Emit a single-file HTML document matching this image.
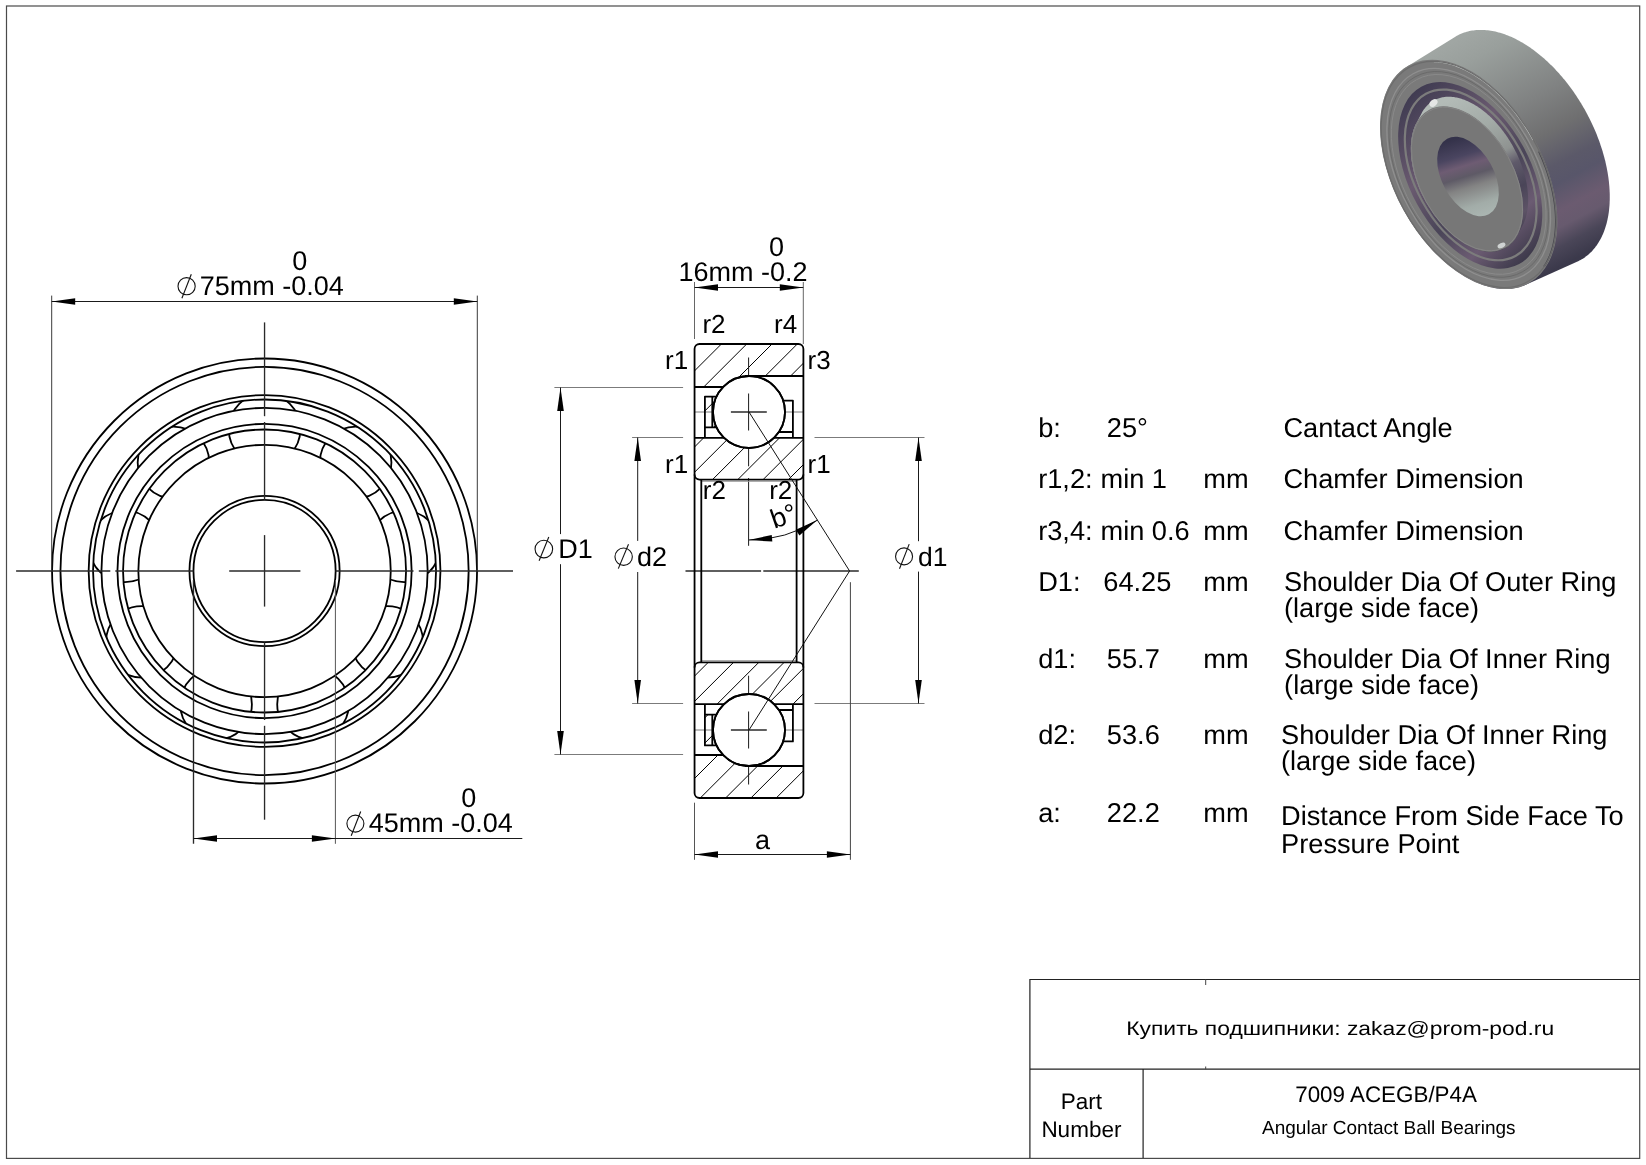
<!DOCTYPE html>
<html><head><meta charset="utf-8"><style>
html,body{margin:0;padding:0;background:#fff;}
svg{display:block;will-change:transform;}
text{font-family:"Liberation Sans",sans-serif;fill:#000;text-rendering:geometricPrecision;}
</style></head><body>
<svg width="1646" height="1165" viewBox="0 0 1646 1165">
<rect width="1646" height="1165" fill="#fff"/>
<rect x="6.5" y="6" width="1633.2" height="1152.4" fill="none" stroke="#4a4a4a" stroke-width="1.2"/>
<defs>
<clipPath id="bandA"><path clip-rule="evenodd" d="M 93.05 571.00 a 171.50 171.50 0 1 0 343.00 0 a 171.50 171.50 0 1 0 -343.00 0 Z M 101.45 571.00 a 163.10 163.10 0 1 0 326.20 0 a 163.10 163.10 0 1 0 -326.20 0 Z"/></clipPath>
<clipPath id="bandB"><path clip-rule="evenodd" d="M 123.05 571.00 a 141.50 141.50 0 1 0 283.00 0 a 141.50 141.50 0 1 0 -283.00 0 Z M 138.35 571.00 a 126.20 126.20 0 1 0 252.40 0 a 126.20 126.20 0 1 0 -252.40 0 Z"/></clipPath>
</defs>
<circle cx="264.55" cy="571.00" r="212.50" fill="none" stroke="#000" stroke-width="1.80"/>
<circle cx="264.55" cy="571.00" r="204.10" fill="none" stroke="#000" stroke-width="1.80"/>
<circle cx="264.55" cy="571.00" r="175.90" fill="none" stroke="#000" stroke-width="1.80"/>
<circle cx="264.55" cy="571.00" r="171.50" fill="none" stroke="#000" stroke-width="1.80"/>
<circle cx="264.55" cy="571.00" r="163.10" fill="none" stroke="#000" stroke-width="1.80"/>
<circle cx="264.55" cy="571.00" r="147.10" fill="none" stroke="#000" stroke-width="1.80"/>
<circle cx="264.55" cy="571.00" r="141.50" fill="none" stroke="#000" stroke-width="1.80"/>
<circle cx="264.55" cy="571.00" r="126.20" fill="none" stroke="#000" stroke-width="1.80"/>
<circle cx="264.55" cy="571.00" r="75.10" fill="none" stroke="#000" stroke-width="1.80"/>
<circle cx="264.55" cy="571.00" r="71.10" fill="none" stroke="#000" stroke-width="1.80"/>
<g clip-path="url(#bandA)" fill="none" stroke="#000" stroke-width="1.80"><circle cx="264.55" cy="429.30" r="35.80"/><circle cx="355.63" cy="462.45" r="35.80"/><circle cx="404.10" cy="546.39" r="35.80"/><circle cx="387.27" cy="641.85" r="35.80"/><circle cx="313.01" cy="704.15" r="35.80"/><circle cx="216.09" cy="704.15" r="35.80"/><circle cx="141.83" cy="641.85" r="35.80"/><circle cx="125.00" cy="546.39" r="35.80"/><circle cx="173.47" cy="462.45" r="35.80"/></g>
<g clip-path="url(#bandB)" fill="none" stroke="#000" stroke-width="1.80"><circle cx="264.55" cy="429.30" r="35.80"/><circle cx="355.63" cy="462.45" r="35.80"/><circle cx="404.10" cy="546.39" r="35.80"/><circle cx="387.27" cy="641.85" r="35.80"/><circle cx="313.01" cy="704.15" r="35.80"/><circle cx="216.09" cy="704.15" r="35.80"/><circle cx="141.83" cy="641.85" r="35.80"/><circle cx="125.00" cy="546.39" r="35.80"/><circle cx="173.47" cy="462.45" r="35.80"/></g>
<line x1="16.10" y1="571.00" x2="110.30" y2="571.00" stroke="#2a2a2a" stroke-width="1.35"/>
<line x1="115.30" y1="571.00" x2="193.50" y2="571.00" stroke="#2a2a2a" stroke-width="1.35"/>
<line x1="229.20" y1="571.00" x2="300.40" y2="571.00" stroke="#2a2a2a" stroke-width="1.35"/>
<line x1="335.50" y1="571.00" x2="413.50" y2="571.00" stroke="#2a2a2a" stroke-width="1.35"/>
<line x1="418.80" y1="571.00" x2="513.00" y2="571.00" stroke="#2a2a2a" stroke-width="1.35"/>
<line x1="264.55" y1="322.40" x2="264.55" y2="416.20" stroke="#2a2a2a" stroke-width="1.35"/>
<line x1="264.55" y1="422.00" x2="264.55" y2="499.80" stroke="#2a2a2a" stroke-width="1.35"/>
<line x1="264.55" y1="535.10" x2="264.55" y2="606.60" stroke="#2a2a2a" stroke-width="1.35"/>
<line x1="264.55" y1="642.30" x2="264.55" y2="720.00" stroke="#2a2a2a" stroke-width="1.35"/>
<line x1="264.55" y1="725.80" x2="264.55" y2="819.70" stroke="#2a2a2a" stroke-width="1.35"/>
<line x1="51.70" y1="295.60" x2="51.70" y2="571.00" stroke="#3a3a3a" stroke-width="1.00"/>
<line x1="477.30" y1="295.60" x2="477.30" y2="571.00" stroke="#3a3a3a" stroke-width="1.00"/>
<line x1="51.70" y1="301.50" x2="477.30" y2="301.50" stroke="#1a1a1a" stroke-width="1.00"/>
<path d="M 51.70 301.50 L 75.20 298.20 L 75.20 304.80 Z" fill="#000"/>
<path d="M 477.30 301.50 L 453.80 304.80 L 453.80 298.20 Z" fill="#000"/>
<line x1="193.50" y1="580.00" x2="193.50" y2="843.80" stroke="#2a2a2a" stroke-width="1.35"/>
<line x1="335.40" y1="580.00" x2="335.40" y2="843.80" stroke="#555" stroke-width="1.00"/>
<line x1="193.50" y1="838.50" x2="522.30" y2="838.50" stroke="#1a1a1a" stroke-width="1.00"/>
<path d="M 193.50 838.50 L 217.00 835.20 L 217.00 841.80 Z" fill="#000"/>
<path d="M 335.40 838.50 L 311.90 841.80 L 311.90 835.20 Z" fill="#000"/>
<text x="292.20" y="269.50" font-size="27.00" text-anchor="start" font-family="Liberation Sans, sans-serif" >0</text>
<circle cx="186.60" cy="286.20" r="8.60" fill="none" stroke="#111" stroke-width="1.1"/>
<line x1="181.90" y1="298.30" x2="191.30" y2="274.30" stroke="#111" stroke-width="1.1"/>
<text x="199.80" y="295.30" font-size="27.00" text-anchor="start" font-family="Liberation Sans, sans-serif" >75mm -0.04</text>
<text x="461.30" y="806.60" font-size="27.00" text-anchor="start" font-family="Liberation Sans, sans-serif" >0</text>
<circle cx="355.40" cy="823.60" r="8.50" fill="none" stroke="#111" stroke-width="1.1"/>
<line x1="351.20" y1="835.70" x2="360.70" y2="811.50" stroke="#111" stroke-width="1.1"/>
<text x="368.80" y="832.10" font-size="27.00" text-anchor="start" font-family="Liberation Sans, sans-serif" >45mm -0.04</text>
<defs>
<clipPath id="uo"><path d="M 694.55 387.00 V 349.00 Q 694.55 344.00 699.55 344.00 H 798.40 Q 803.40 344.00 803.40 349.00 V 376.00 H 749.00 V 387.00 Z"/></clipPath>
<clipPath id="ui"><path d="M 694.55 437.80 H 803.40 V 474.60 Q 803.40 479.60 798.40 479.60 H 699.55 Q 694.55 479.60 694.55 474.60 Z"/></clipPath>
<clipPath id="li"><path d="M 694.55 704.20 H 803.40 V 667.40 Q 803.40 662.40 798.40 662.40 H 699.55 Q 694.55 662.40 694.55 667.40 Z"/></clipPath>
<clipPath id="lo"><path d="M 694.55 755.00 V 793.00 Q 694.55 798.00 699.55 798.00 H 798.40 Q 803.40 798.00 803.40 793.00 V 766.00 H 749.00 V 755.00 Z"/></clipPath>
<clipPath id="cg1"><rect x="704.9" y="396.6" width="12" height="30.8"/></clipPath>
<clipPath id="cg2"><rect x="780" y="400.6" width="12.9" height="31.4"/></clipPath>
<clipPath id="cg3"><rect x="704.9" y="714.60" width="12" height="30.8"/></clipPath>
<clipPath id="cg4"><rect x="780" y="710.00" width="12.9" height="31.4"/></clipPath>
</defs>
<g clip-path="url(#uo)" stroke="#000" stroke-width="1.0"><line x1="627.80" y1="387.00" x2="670.80" y2="344.00"/><line x1="653.10" y1="387.00" x2="696.10" y2="344.00"/><line x1="678.40" y1="387.00" x2="721.40" y2="344.00"/><line x1="703.70" y1="387.00" x2="746.70" y2="344.00"/><line x1="729.00" y1="387.00" x2="772.00" y2="344.00"/><line x1="754.30" y1="387.00" x2="797.30" y2="344.00"/><line x1="779.60" y1="387.00" x2="822.60" y2="344.00"/></g>
<g clip-path="url(#ui)" stroke="#000" stroke-width="1.0"><line x1="636.60" y1="479.60" x2="678.40" y2="437.80"/><line x1="661.90" y1="479.60" x2="703.70" y2="437.80"/><line x1="687.20" y1="479.60" x2="729.00" y2="437.80"/><line x1="712.50" y1="479.60" x2="754.30" y2="437.80"/><line x1="737.80" y1="479.60" x2="779.60" y2="437.80"/><line x1="763.10" y1="479.60" x2="804.90" y2="437.80"/><line x1="788.40" y1="479.60" x2="830.20" y2="437.80"/></g>
<g clip-path="url(#li)" stroke="#000" stroke-width="1.0"><line x1="641.10" y1="704.20" x2="682.90" y2="662.40"/><line x1="666.40" y1="704.20" x2="708.20" y2="662.40"/><line x1="691.70" y1="704.20" x2="733.50" y2="662.40"/><line x1="717.00" y1="704.20" x2="758.80" y2="662.40"/><line x1="742.30" y1="704.20" x2="784.10" y2="662.40"/><line x1="767.60" y1="704.20" x2="809.40" y2="662.40"/><line x1="792.90" y1="704.20" x2="834.70" y2="662.40"/></g>
<g clip-path="url(#lo)" stroke="#000" stroke-width="1.0"><line x1="649.70" y1="798.00" x2="692.70" y2="755.00"/><line x1="675.00" y1="798.00" x2="718.00" y2="755.00"/><line x1="700.30" y1="798.00" x2="743.30" y2="755.00"/><line x1="725.60" y1="798.00" x2="768.60" y2="755.00"/><line x1="750.90" y1="798.00" x2="793.90" y2="755.00"/><line x1="776.20" y1="798.00" x2="819.20" y2="755.00"/><line x1="801.50" y1="798.00" x2="844.50" y2="755.00"/></g>
<g clip-path="url(#cg1)" stroke="#000" stroke-width="1.0"><line x1="663.10" y1="427.40" x2="693.90" y2="396.60"/><line x1="688.40" y1="427.40" x2="719.20" y2="396.60"/><line x1="713.70" y1="427.40" x2="744.50" y2="396.60"/><line x1="739.00" y1="427.40" x2="769.80" y2="396.60"/><line x1="764.30" y1="427.40" x2="795.10" y2="396.60"/><line x1="789.60" y1="427.40" x2="820.40" y2="396.60"/></g>
<g clip-path="url(#cg3)" stroke="#000" stroke-width="1.0"><line x1="651.90" y1="745.40" x2="682.70" y2="714.60"/><line x1="677.20" y1="745.40" x2="708.00" y2="714.60"/><line x1="702.50" y1="745.40" x2="733.30" y2="714.60"/><line x1="727.80" y1="745.40" x2="758.60" y2="714.60"/><line x1="753.10" y1="745.40" x2="783.90" y2="714.60"/><line x1="778.40" y1="745.40" x2="809.20" y2="714.60"/></g>
<line x1="694.55" y1="412.00" x2="712.30" y2="412.00" stroke="#7b7b7b" stroke-width="1.00"/>
<line x1="730.90" y1="412.00" x2="766.80" y2="412.00" stroke="#2a2a2a" stroke-width="1.35"/>
<line x1="785.00" y1="412.00" x2="803.40" y2="412.00" stroke="#7b7b7b" stroke-width="1.00"/>
<line x1="694.55" y1="730.00" x2="712.30" y2="730.00" stroke="#7b7b7b" stroke-width="1.00"/>
<line x1="730.90" y1="730.00" x2="766.80" y2="730.00" stroke="#2a2a2a" stroke-width="1.35"/>
<line x1="785.00" y1="730.00" x2="803.40" y2="730.00" stroke="#7b7b7b" stroke-width="1.00"/>
<line x1="748.60" y1="357.50" x2="748.60" y2="375.00" stroke="#1a1a1a" stroke-width="1.00"/>
<line x1="748.60" y1="393.50" x2="748.60" y2="430.50" stroke="#1a1a1a" stroke-width="1.00"/>
<line x1="748.60" y1="448.80" x2="748.60" y2="466.30" stroke="#1a1a1a" stroke-width="1.00"/>
<line x1="748.60" y1="478.00" x2="748.60" y2="545.80" stroke="#1a1a1a" stroke-width="1.00"/>
<line x1="748.60" y1="767.00" x2="748.60" y2="784.50" stroke="#1a1a1a" stroke-width="1.00"/>
<line x1="748.60" y1="711.50" x2="748.60" y2="748.50" stroke="#1a1a1a" stroke-width="1.00"/>
<line x1="748.60" y1="675.70" x2="748.60" y2="693.20" stroke="#1a1a1a" stroke-width="1.00"/>
<line x1="685.50" y1="571.00" x2="761.10" y2="571.00" stroke="#2a2a2a" stroke-width="1.35"/>
<line x1="763.30" y1="571.00" x2="858.80" y2="571.00" stroke="#2a2a2a" stroke-width="1.35"/>
<circle cx="749.00" cy="412.00" r="36.00" fill="#fff" stroke="#000" stroke-width="1.80"/>
<circle cx="749.00" cy="730.00" r="36.00" fill="#fff" stroke="#000" stroke-width="1.80"/>
<line x1="730.90" y1="412.00" x2="766.80" y2="412.00" stroke="#2a2a2a" stroke-width="1.35"/>
<line x1="748.60" y1="393.50" x2="748.60" y2="430.50" stroke="#1a1a1a" stroke-width="1.00"/>
<line x1="730.90" y1="730.00" x2="766.80" y2="730.00" stroke="#2a2a2a" stroke-width="1.35"/>
<line x1="748.60" y1="711.50" x2="748.60" y2="748.50" stroke="#1a1a1a" stroke-width="1.00"/>
<path d="M 694.55 793.00 V 349.00 A 5.00 5.00 0 0 1 699.55 344.00 H 798.40 A 5.00 5.00 0 0 1 803.40 349.00 V 793.00 A 5.00 5.00 0 0 1 798.40 798.00 H 699.55 A 5.00 5.00 0 0 1 694.55 793.00 Z" fill="none" stroke="#000" stroke-width="1.80" stroke-linejoin="round"/>
<path d="M 694.55 387 H 723.5 M 745 376 H 803.40" fill="none" stroke="#000" stroke-width="1.80" stroke-linejoin="round"/>
<path d="M 694.55 755.00 H 723.5 M 745 766.00 H 803.40" fill="none" stroke="#000" stroke-width="1.80" stroke-linejoin="round"/>
<path d="M 694.55 437.80 H 724 M 774 437.80 H 803.40" fill="none" stroke="#000" stroke-width="1.80" stroke-linejoin="round"/>
<path d="M 694.55 474.60 A 5.00 5.00 0 0 0 699.55 479.60 H 798.40 A 5.00 5.00 0 0 0 803.40 474.60" fill="none" stroke="#000" stroke-width="1.80" stroke-linejoin="round"/>
<path d="M 694.55 704.20 H 724 M 774 704.20 H 803.40" fill="none" stroke="#000" stroke-width="1.80" stroke-linejoin="round"/>
<path d="M 694.55 667.40 A 5.00 5.00 0 0 1 699.55 662.40 H 798.40 A 5.00 5.00 0 0 1 803.40 667.40" fill="none" stroke="#000" stroke-width="1.80" stroke-linejoin="round"/>
<line x1="701.30" y1="481.30" x2="796.60" y2="481.30" stroke="#999" stroke-width="1.00"/>
<line x1="701.30" y1="660.70" x2="796.60" y2="660.70" stroke="#999" stroke-width="1.00"/>
<path d="M 701.3 479.6 V 662.4 M 796.6 479.6 V 662.4" fill="none" stroke="#000" stroke-width="1.80" stroke-linejoin="round"/>
<path d="M 704.9 437.8 V 396.6 H 716.5 M 712.3 396.6 V 427.4 M 704.9 427.4 H 716.5" fill="none" stroke="#000" stroke-width="1.80" stroke-linejoin="round"/>
<path d="M 783.0 400.6 H 792.9 V 437.8 M 779.0 432.0 H 792.9" fill="none" stroke="#000" stroke-width="1.80" stroke-linejoin="round"/>
<path d="M 704.9 704.20 V 745.40 H 716.5 M 712.3 745.40 V 714.60 M 704.9 714.60 H 716.5" fill="none" stroke="#000" stroke-width="1.80" stroke-linejoin="round"/>
<path d="M 783.0 741.40 H 792.9 V 704.20 M 779.0 710.00 H 792.9" fill="none" stroke="#000" stroke-width="1.80" stroke-linejoin="round"/>
<circle cx="749.00" cy="412.00" r="36.00" fill="none" stroke="#000" stroke-width="1.80"/>
<circle cx="749.00" cy="730.00" r="36.00" fill="none" stroke="#000" stroke-width="1.80"/>
<path d="M 749.00 412.00 L 849.6 571 L 749.00 730.00" fill="none" stroke="#111" stroke-width="1.0"/>
<path d="M 749.00 540.00 A 128.00 128.00 0 0 0 817.59 520.07" fill="none" stroke="#111" stroke-width="1.0"/>
<path d="M 748.60 540.10 L 771.76 534.94 L 772.29 541.52 Z" fill="#000"/>
<path d="M 817.40 519.90 L 799.42 535.38 L 795.85 529.83 Z" fill="#000"/>
<line x1="694.50" y1="282.00" x2="694.50" y2="339.00" stroke="#666" stroke-width="1.00"/>
<line x1="803.30" y1="282.00" x2="803.30" y2="344.00" stroke="#666" stroke-width="1.00"/>
<line x1="694.50" y1="287.50" x2="803.30" y2="287.50" stroke="#1a1a1a" stroke-width="1.00"/>
<path d="M 694.50 287.50 L 718.00 284.20 L 718.00 290.80 Z" fill="#000"/>
<path d="M 803.30 287.50 L 779.80 290.80 L 779.80 284.20 Z" fill="#000"/>
<text x="769.00" y="255.80" font-size="27.00" text-anchor="start" font-family="Liberation Sans, sans-serif" >0</text>
<text x="678.50" y="281.30" font-size="27.00" text-anchor="start" font-family="Liberation Sans, sans-serif" >16mm -0.2</text>
<line x1="554.40" y1="387.50" x2="683.10" y2="387.50" stroke="#7b7b7b" stroke-width="1.00"/>
<line x1="554.40" y1="754.50" x2="683.10" y2="754.50" stroke="#7b7b7b" stroke-width="1.00"/>
<line x1="560.50" y1="387.50" x2="560.50" y2="534.10" stroke="#1a1a1a" stroke-width="1.00"/>
<line x1="560.50" y1="564.20" x2="560.50" y2="754.50" stroke="#1a1a1a" stroke-width="1.00"/>
<path d="M 560.50 387.50 L 563.80 411.00 L 557.20 411.00 Z" fill="#000"/>
<path d="M 560.50 754.50 L 557.20 731.00 L 563.80 731.00 Z" fill="#000"/>
<circle cx="543.85" cy="549.05" r="8.80" fill="none" stroke="#111" stroke-width="1.1"/>
<line x1="539.10" y1="560.80" x2="548.80" y2="537.00" stroke="#111" stroke-width="1.1"/>
<text x="558.30" y="558.40" font-size="27.00" text-anchor="start" font-family="Liberation Sans, sans-serif" >D1</text>
<line x1="632.10" y1="437.50" x2="683.10" y2="437.50" stroke="#7b7b7b" stroke-width="1.00"/>
<line x1="632.10" y1="703.50" x2="683.10" y2="703.50" stroke="#7b7b7b" stroke-width="1.00"/>
<line x1="637.70" y1="437.50" x2="637.70" y2="540.90" stroke="#1a1a1a" stroke-width="1.00"/>
<line x1="637.70" y1="572.00" x2="637.70" y2="703.50" stroke="#1a1a1a" stroke-width="1.00"/>
<path d="M 637.70 437.50 L 641.00 461.00 L 634.40 461.00 Z" fill="#000"/>
<path d="M 637.70 703.50 L 634.40 680.00 L 641.00 680.00 Z" fill="#000"/>
<circle cx="623.65" cy="556.70" r="8.70" fill="none" stroke="#111" stroke-width="1.1"/>
<line x1="618.30" y1="568.60" x2="628.50" y2="544.30" stroke="#111" stroke-width="1.1"/>
<text x="637.00" y="565.70" font-size="27.00" text-anchor="start" font-family="Liberation Sans, sans-serif" >d2</text>
<line x1="814.50" y1="437.50" x2="924.50" y2="437.50" stroke="#7b7b7b" stroke-width="1.00"/>
<line x1="814.50" y1="703.50" x2="924.50" y2="703.50" stroke="#7b7b7b" stroke-width="1.00"/>
<line x1="918.50" y1="437.50" x2="918.50" y2="541.20" stroke="#1a1a1a" stroke-width="1.00"/>
<line x1="918.50" y1="571.60" x2="918.50" y2="703.50" stroke="#1a1a1a" stroke-width="1.00"/>
<path d="M 918.50 437.50 L 921.80 461.00 L 915.20 461.00 Z" fill="#000"/>
<path d="M 918.50 703.50 L 915.20 680.00 L 921.80 680.00 Z" fill="#000"/>
<circle cx="904.05" cy="556.40" r="8.50" fill="none" stroke="#111" stroke-width="1.1"/>
<line x1="899.50" y1="568.80" x2="909.20" y2="544.10" stroke="#111" stroke-width="1.1"/>
<text x="918.00" y="565.50" font-size="26.50" text-anchor="start" font-family="Liberation Sans, sans-serif" >d1</text>
<line x1="694.50" y1="802.70" x2="694.50" y2="859.80" stroke="#555" stroke-width="1.00"/>
<line x1="850.40" y1="582.20" x2="850.40" y2="859.80" stroke="#444" stroke-width="1.00"/>
<line x1="694.50" y1="854.50" x2="850.40" y2="854.50" stroke="#1a1a1a" stroke-width="1.00"/>
<path d="M 694.50 854.50 L 718.00 851.20 L 718.00 857.80 Z" fill="#000"/>
<path d="M 850.40 854.50 L 826.90 857.80 L 826.90 851.20 Z" fill="#000"/>
<text x="762.50" y="848.90" font-size="27.00" text-anchor="middle" font-family="Liberation Sans, sans-serif" >a</text>
<text x="702.40" y="333.00" font-size="26.00" text-anchor="start" font-family="Liberation Sans, sans-serif" >r2</text>
<text x="774.00" y="333.30" font-size="26.00" text-anchor="start" font-family="Liberation Sans, sans-serif" >r4</text>
<text x="665.00" y="368.70" font-size="26.00" text-anchor="start" font-family="Liberation Sans, sans-serif" >r1</text>
<text x="807.50" y="368.70" font-size="26.00" text-anchor="start" font-family="Liberation Sans, sans-serif" >r3</text>
<text x="665.00" y="472.90" font-size="26.00" text-anchor="start" font-family="Liberation Sans, sans-serif" >r1</text>
<text x="807.50" y="472.90" font-size="26.00" text-anchor="start" font-family="Liberation Sans, sans-serif" >r1</text>
<text x="702.80" y="499.00" font-size="26.00" text-anchor="start" font-family="Liberation Sans, sans-serif" >r2</text>
<text x="769.20" y="499.00" font-size="26.00" text-anchor="start" font-family="Liberation Sans, sans-serif" >r2</text>
<text x="0" y="0" font-size="27" font-family="Liberation Sans, sans-serif" transform="translate(774.2,528.8) rotate(-19)">b°</text>
<text x="1038.20" y="436.70" font-size="27.20" text-anchor="start" font-family="Liberation Sans, sans-serif" >b:</text>
<text x="1106.80" y="436.70" font-size="27.20" text-anchor="start" font-family="Liberation Sans, sans-serif" >25°</text>
<text x="1283.40" y="436.80" font-size="27.20" text-anchor="start" font-family="Liberation Sans, sans-serif" >Cantact Angle</text>
<text x="1038.20" y="488.10" font-size="27.20" text-anchor="start" font-family="Liberation Sans, sans-serif" >r1,2:</text>
<text x="1100.50" y="488.10" font-size="27.20" text-anchor="start" font-family="Liberation Sans, sans-serif" >min 1</text>
<text x="1203.30" y="488.10" font-size="27.20" text-anchor="start" font-family="Liberation Sans, sans-serif" >mm</text>
<text x="1283.40" y="488.20" font-size="27.20" text-anchor="start" font-family="Liberation Sans, sans-serif" >Chamfer Dimension</text>
<text x="1038.20" y="539.50" font-size="27.20" text-anchor="start" font-family="Liberation Sans, sans-serif" >r3,4:</text>
<text x="1100.50" y="539.50" font-size="27.20" text-anchor="start" font-family="Liberation Sans, sans-serif" >min 0.6</text>
<text x="1203.30" y="539.50" font-size="27.20" text-anchor="start" font-family="Liberation Sans, sans-serif" >mm</text>
<text x="1283.40" y="539.60" font-size="27.20" text-anchor="start" font-family="Liberation Sans, sans-serif" >Chamfer Dimension</text>
<text x="1038.20" y="590.60" font-size="27.20" text-anchor="start" font-family="Liberation Sans, sans-serif" >D1:</text>
<text x="1103.30" y="590.60" font-size="27.20" text-anchor="start" font-family="Liberation Sans, sans-serif" >64.25</text>
<text x="1203.30" y="590.60" font-size="27.20" text-anchor="start" font-family="Liberation Sans, sans-serif" >mm</text>
<text x="1284.00" y="590.90" font-size="27.20" text-anchor="start" font-family="Liberation Sans, sans-serif" >Shoulder Dia Of Outer Ring</text>
<text x="1284.00" y="616.70" font-size="27.20" text-anchor="start" font-family="Liberation Sans, sans-serif" >(large side face)</text>
<text x="1038.20" y="667.80" font-size="27.20" text-anchor="start" font-family="Liberation Sans, sans-serif" >d1:</text>
<text x="1106.85" y="667.80" font-size="27.20" text-anchor="start" font-family="Liberation Sans, sans-serif" >55.7</text>
<text x="1203.30" y="667.80" font-size="27.20" text-anchor="start" font-family="Liberation Sans, sans-serif" >mm</text>
<text x="1284.10" y="668.20" font-size="27.20" text-anchor="start" font-family="Liberation Sans, sans-serif" >Shoulder Dia Of Inner Ring</text>
<text x="1284.10" y="693.80" font-size="27.20" text-anchor="start" font-family="Liberation Sans, sans-serif" >(large side face)</text>
<text x="1038.20" y="744.40" font-size="27.20" text-anchor="start" font-family="Liberation Sans, sans-serif" >d2:</text>
<text x="1106.85" y="744.40" font-size="27.20" text-anchor="start" font-family="Liberation Sans, sans-serif" >53.6</text>
<text x="1203.30" y="744.40" font-size="27.20" text-anchor="start" font-family="Liberation Sans, sans-serif" >mm</text>
<text x="1281.00" y="744.40" font-size="27.20" text-anchor="start" font-family="Liberation Sans, sans-serif" >Shoulder Dia Of Inner Ring</text>
<text x="1281.00" y="769.90" font-size="27.20" text-anchor="start" font-family="Liberation Sans, sans-serif" >(large side face)</text>
<text x="1038.20" y="821.70" font-size="27.20" text-anchor="start" font-family="Liberation Sans, sans-serif" >a:</text>
<text x="1106.85" y="821.70" font-size="27.20" text-anchor="start" font-family="Liberation Sans, sans-serif" >22.2</text>
<text x="1203.30" y="821.70" font-size="27.20" text-anchor="start" font-family="Liberation Sans, sans-serif" >mm</text>
<text x="1281.10" y="825.00" font-size="27.20" text-anchor="start" font-family="Liberation Sans, sans-serif" >Distance From Side Face To</text>
<text x="1281.10" y="852.70" font-size="27.20" text-anchor="start" font-family="Liberation Sans, sans-serif" >Pressure Point</text>
<path d="M 1029.9 1158 V 979.5 H 1639.5 M 1029.9 1069.1 H 1639.5 M 1143.1 1069.1 V 1158" fill="none" stroke="#222" stroke-width="1.2"/>
<line x1="1205.70" y1="979.50" x2="1205.70" y2="985.00" stroke="#444" stroke-width="1.00"/>
<line x1="1205.70" y1="1066.50" x2="1205.70" y2="1069.10" stroke="#444" stroke-width="1.00"/>
<text x="1340.20" y="1035.10" font-size="19.50" text-anchor="middle" font-family="Liberation Sans, sans-serif" textLength="427.8" lengthAdjust="spacingAndGlyphs" fill="#1a1a1a">Купить подшипники: zakaz@prom-pod.ru</text>
<text x="1081.40" y="1109.20" font-size="22.50" text-anchor="middle" font-family="Liberation Sans, sans-serif" >Part</text>
<text x="1081.40" y="1136.80" font-size="22.50" text-anchor="middle" font-family="Liberation Sans, sans-serif" >Number</text>
<text x="1386.10" y="1101.90" font-size="22.40" text-anchor="middle" font-family="Liberation Sans, sans-serif" >7009 ACEGB/P4A</text>
<text x="1388.80" y="1133.70" font-size="19.00" text-anchor="middle" font-family="Liberation Sans, sans-serif" >Angular Contact Ball Bearings</text>
<defs>
<linearGradient id="cylg" gradientUnits="userSpaceOnUse" x1="1410.5" y1="64.6" x2="1526.9" y2="284.2"><stop offset="0.000" stop-color="#a0a6a3"/><stop offset="0.100" stop-color="#999f9c"/><stop offset="0.350" stop-color="#808282"/><stop offset="0.500" stop-color="#6f6f70"/><stop offset="0.630" stop-color="#5b5969"/><stop offset="0.700" stop-color="#58566a"/><stop offset="0.800" stop-color="#6b5b70"/><stop offset="0.860" stop-color="#675a6e"/><stop offset="0.930" stop-color="#4a4658"/><stop offset="1.000" stop-color="#3b394b"/></linearGradient>
<linearGradient id="icyl" gradientUnits="userSpaceOnUse" x1="1430.0" y1="109.3" x2="1504.0" y2="248.7"><stop offset="0.000" stop-color="#b3bbb7"/><stop offset="0.250" stop-color="#a3aba7"/><stop offset="0.450" stop-color="#8f9391"/><stop offset="0.550" stop-color="#5f5a6a"/><stop offset="0.700" stop-color="#4a4558"/><stop offset="0.850" stop-color="#5d5366"/><stop offset="1.000" stop-color="#3a3748"/></linearGradient>
<linearGradient id="bore" gradientUnits="userSpaceOnUse" x1="1458" y1="138" x2="1482" y2="216"><stop offset="0" stop-color="#34324a"/><stop offset="0.22" stop-color="#4a4560"/><stop offset="0.35" stop-color="#6e5c73"/><stop offset="0.48" stop-color="#5e5a66"/><stop offset="0.62" stop-color="#838383"/><stop offset="0.85" stop-color="#a2aca8"/><stop offset="1" stop-color="#aab5b1"/></linearGradient>
<linearGradient id="gap" gradientUnits="userSpaceOnUse" x1="1400" y1="100" x2="1540" y2="250"><stop offset="0" stop-color="#3e3a50"/><stop offset="0.35" stop-color="#6a5a70"/><stop offset="0.6" stop-color="#4a4558"/><stop offset="0.8" stop-color="#6b5b72"/><stop offset="1" stop-color="#3a3748"/></linearGradient>
</defs>
<path d="M 1406.40 66.90 L 1454.53 37.17 L 1455.67 36.48 L 1456.83 35.82 L 1458.00 35.19 L 1459.20 34.60 L 1460.41 34.04 L 1461.64 33.52 L 1462.88 33.03 L 1464.15 32.57 L 1465.43 32.16 L 1466.73 31.77 L 1468.04 31.42 L 1469.37 31.11 L 1470.71 30.84 L 1472.07 30.60 L 1473.44 30.39 L 1474.83 30.22 L 1476.23 30.09 L 1477.64 29.99 L 1479.07 29.93 L 1480.50 29.90 L 1481.95 29.91 L 1483.41 29.96 L 1484.88 30.04 L 1486.36 30.16 L 1487.85 30.31 L 1489.35 30.50 L 1490.86 30.73 L 1492.38 30.99 L 1493.90 31.29 L 1495.44 31.62 L 1496.98 31.99 L 1498.52 32.39 L 1500.08 32.83 L 1501.64 33.30 L 1503.20 33.81 L 1504.77 34.35 L 1506.34 34.93 L 1507.92 35.54 L 1509.50 36.19 L 1511.08 36.87 L 1512.66 37.58 L 1514.25 38.33 L 1515.84 39.11 L 1517.43 39.92 L 1519.02 40.77 L 1520.61 41.65 L 1522.20 42.56 L 1523.78 43.51 L 1525.37 44.48 L 1526.95 45.49 L 1528.54 46.53 L 1530.11 47.60 L 1531.69 48.70 L 1533.26 49.83 L 1534.83 50.99 L 1536.39 52.18 L 1537.94 53.40 L 1539.50 54.64 L 1541.04 55.92 L 1542.58 57.22 L 1544.11 58.55 L 1545.63 59.91 L 1547.14 61.30 L 1548.65 62.71 L 1550.15 64.15 L 1551.63 65.61 L 1553.11 67.10 L 1554.57 68.61 L 1556.03 70.15 L 1557.47 71.71 L 1558.91 73.30 L 1560.33 74.90 L 1561.73 76.53 L 1563.13 78.18 L 1564.51 79.86 L 1565.87 81.55 L 1567.23 83.26 L 1568.56 84.99 L 1569.89 86.75 L 1571.19 88.52 L 1572.48 90.31 L 1573.76 92.11 L 1575.02 93.93 L 1576.26 95.77 L 1577.48 97.63 L 1578.68 99.50 L 1579.87 101.39 L 1581.04 103.29 L 1582.19 105.20 L 1583.32 107.13 L 1584.43 109.06 L 1585.52 111.01 L 1586.59 112.98 L 1587.64 114.95 L 1588.66 116.93 L 1589.67 118.92 L 1590.66 120.92 L 1591.62 122.93 L 1592.56 124.95 L 1593.48 126.97 L 1594.37 129.00 L 1595.25 131.04 L 1596.10 133.08 L 1596.92 135.12 L 1597.72 137.17 L 1598.50 139.23 L 1599.26 141.28 L 1599.98 143.34 L 1600.69 145.40 L 1601.37 147.46 L 1602.02 149.52 L 1602.65 151.57 L 1603.25 153.63 L 1603.83 155.69 L 1604.38 157.74 L 1604.91 159.79 L 1605.41 161.84 L 1605.88 163.88 L 1606.33 165.92 L 1606.75 167.95 L 1607.14 169.98 L 1607.50 172.00 L 1607.84 174.01 L 1608.15 176.02 L 1608.44 178.01 L 1608.69 180.00 L 1608.92 181.97 L 1609.13 183.94 L 1609.30 185.90 L 1609.45 187.84 L 1609.57 189.77 L 1609.66 191.69 L 1609.72 193.60 L 1609.76 195.49 L 1609.77 197.37 L 1609.75 199.23 L 1609.70 201.07 L 1609.62 202.90 L 1609.52 204.72 L 1609.39 206.51 L 1609.23 208.29 L 1609.05 210.05 L 1608.84 211.79 L 1608.59 213.52 L 1608.33 215.22 L 1608.03 216.90 L 1607.71 218.56 L 1607.36 220.20 L 1606.98 221.81 L 1606.58 223.41 L 1606.15 224.98 L 1605.69 226.53 L 1605.21 228.05 L 1604.70 229.55 L 1604.17 231.02 L 1603.60 232.47 L 1603.02 233.89 L 1602.40 235.29 L 1601.76 236.66 L 1601.10 238.01 L 1600.41 239.32 L 1599.70 240.61 L 1598.96 241.87 L 1598.19 243.10 L 1597.41 244.30 L 1596.59 245.48 L 1595.76 246.62 L 1594.90 247.73 L 1594.02 248.81 L 1593.11 249.87 L 1592.19 250.89 L 1591.24 251.88 L 1590.27 252.83 L 1589.27 253.76 L 1588.26 254.65 L 1587.22 255.52 L 1586.16 256.34 L 1585.08 257.14 L 1583.99 257.90 L 1582.87 258.63 L 1581.73 259.32 L 1580.57 259.98 L 1579.40 260.61 L 1578.20 261.20 L 1576.99 261.76 L 1525.29 284.95 L 1524.10 285.45 L 1522.89 285.93 L 1521.66 286.37 L 1520.42 286.77 L 1519.16 287.15 L 1517.88 287.48 L 1516.59 287.79 L 1515.29 288.05 L 1513.97 288.29 L 1512.64 288.49 L 1511.29 288.65 L 1509.94 288.78 L 1508.56 288.88 L 1507.18 288.94 L 1505.79 288.96 L 1504.38 288.95 L 1502.96 288.91 L 1501.53 288.83 L 1500.10 288.71 L 1498.65 288.56 L 1497.19 288.38 L 1495.73 288.16 L 1494.25 287.91 L 1492.77 287.62 L 1491.28 287.29 L 1489.79 286.94 L 1488.29 286.55 L 1486.78 286.12 L 1485.27 285.66 L 1483.75 285.17 L 1482.23 284.64 L 1480.70 284.08 L 1479.17 283.49 L 1477.63 282.86 L 1476.10 282.20 L 1474.56 281.51 L 1473.02 280.78 L 1471.48 280.02 L 1469.93 279.23 L 1468.39 278.41 L 1466.85 277.56 L 1465.31 276.67 L 1463.76 275.75 L 1462.22 274.81 L 1460.69 273.83 L 1459.15 272.82 L 1457.62 271.78 L 1456.09 270.71 L 1454.56 269.62 L 1453.04 268.49 L 1451.53 267.33 L 1450.02 266.15 L 1448.51 264.94 L 1447.01 263.70 L 1445.52 262.44 L 1444.03 261.14 L 1442.56 259.82 L 1441.09 258.48 L 1439.62 257.11 L 1438.17 255.71 L 1436.73 254.29 L 1435.29 252.85 L 1433.87 251.38 L 1432.46 249.88 L 1431.06 248.37 L 1429.66 246.83 L 1428.29 245.27 L 1426.92 243.69 L 1425.57 242.09 L 1424.23 240.46 L 1422.90 238.82 L 1421.59 237.16 L 1420.29 235.47 L 1419.00 233.77 L 1417.74 232.05 L 1416.48 230.32 L 1415.25 228.56 L 1414.02 226.79 L 1412.82 225.01 L 1411.63 223.21 L 1410.46 221.39 L 1409.31 219.56 L 1408.18 217.71 L 1407.06 215.86 L 1405.96 213.99 L 1404.89 212.10 L 1403.83 210.21 L 1402.79 208.31 L 1401.77 206.39 L 1400.77 204.47 L 1399.80 202.53 L 1398.84 200.59 L 1397.90 198.64 L 1396.99 196.68 L 1396.10 194.72 L 1395.23 192.75 L 1394.38 190.77 L 1393.56 188.79 L 1392.76 186.80 L 1391.98 184.81 L 1391.22 182.82 L 1390.49 180.83 L 1389.78 178.83 L 1389.10 176.83 L 1388.44 174.83 L 1387.80 172.83 L 1387.19 170.83 L 1386.61 168.83 L 1386.05 166.84 L 1385.51 164.84 L 1385.00 162.85 L 1384.52 160.87 L 1384.06 158.88 L 1383.63 156.90 L 1383.22 154.93 L 1382.84 152.96 L 1382.48 151.00 L 1382.15 149.05 L 1381.85 147.10 L 1381.58 145.17 L 1381.33 143.24 L 1381.10 141.32 L 1380.91 139.41 L 1380.74 137.51 L 1380.60 135.62 L 1380.48 133.75 L 1380.39 131.88 L 1380.33 130.03 L 1380.29 128.20 L 1380.29 126.38 L 1380.31 124.57 L 1380.35 122.77 L 1380.42 121.00 L 1380.52 119.24 L 1380.65 117.49 L 1380.80 115.77 L 1380.98 114.06 L 1381.19 112.37 L 1381.42 110.70 L 1381.68 109.04 L 1381.97 107.41 L 1382.28 105.80 L 1382.62 104.21 L 1382.99 102.64 L 1383.38 101.09 L 1383.80 99.57 L 1384.24 98.06 L 1384.71 96.59 L 1385.20 95.13 L 1385.72 93.70 L 1386.27 92.29 L 1386.84 90.91 L 1387.44 89.55 L 1388.06 88.22 L 1388.70 86.92 L 1389.37 85.64 L 1390.06 84.39 L 1390.78 83.17 L 1391.52 81.97 L 1392.29 80.80 L 1393.07 79.67 L 1393.88 78.56 L 1394.72 77.48 L 1395.57 76.42 L 1396.45 75.40 L 1397.35 74.41 L 1398.28 73.45 L 1399.22 72.52 L 1400.18 71.62 L 1401.17 70.76 L 1402.18 69.92 L 1403.20 69.12 L 1404.25 68.34 L 1405.32 67.60 Z" fill="url(#cylg)"/>
<path d="M 1528.77 283.22 A 124.30 74.10 61.10 1 1 1408.63 65.58 A 124.30 74.10 61.10 1 1 1528.77 283.22 Z" fill="#7a7a7a"/>
<path d="M 1432.17 61.56 L 1432.86 61.56 L 1433.56 61.57 L 1434.25 61.59 L 1434.95 61.61 L 1435.65 61.65 L 1436.36 61.69 L 1437.07 61.74 L 1437.77 61.80 L 1438.49 61.87 L 1439.20 61.95 L 1439.92 62.04 L 1440.63 62.13 L 1441.36 62.24 L 1442.08 62.35 L 1442.80 62.47 L 1443.53 62.60 L 1444.26 62.73 L 1444.99 62.88 L 1445.72 63.04 L 1446.45 63.20 L 1447.19 63.37 L 1447.93 63.55 L 1448.67 63.74 L 1449.41 63.94 L 1450.15 64.14 L 1450.89 64.35 L 1451.64 64.58 L 1452.38 64.81 L 1453.13 65.05 L 1453.88 65.29 L 1454.63 65.55 L 1455.38 65.81 L 1456.13 66.08 L 1456.88 66.36 L 1457.63 66.65 L 1458.39 66.95 L 1459.14 67.25 L 1459.90 67.57 L 1460.66 67.89 L 1461.41 68.22 L 1462.17 68.56 L 1462.93 68.90 L 1463.69 69.25 L 1464.45 69.62 L 1465.21 69.98 L 1465.96 70.36 L 1466.72 70.75 L 1467.48 71.14 L 1468.24 71.54 L 1469.00 71.95 L 1469.76 72.37 L 1470.52 72.79 L 1471.28 73.22 L 1472.04 73.66 L 1472.80 74.11 L 1473.56 74.57 L 1474.32 75.03 L 1475.08 75.50 L 1475.84 75.98 L 1476.59 76.46 L 1477.35 76.96 L 1478.11 77.46 L 1478.86 77.96 L 1479.62 78.48 L 1480.37 79.00 L 1481.12 79.53 L 1481.87 80.07 L 1482.62 80.61 L 1483.37 81.16 L 1484.12 81.72 L 1484.87 82.29 L 1485.62 82.86 L 1486.36 83.44 L 1487.10 84.02 L 1487.85 84.62 L 1488.59 85.22 L 1489.33 85.82 L 1490.06 86.44 L 1490.80 87.06 L 1491.53 87.68 L 1492.27 88.32 L 1493.00 88.96 L 1493.73 89.60 L 1494.45 90.26 L 1495.18 90.92 L 1495.90 91.58 L 1496.62 92.25 L 1497.34 92.93 L 1498.06 93.62 L 1498.77 94.31 L 1499.48 95.01 L 1500.19 95.71 L 1500.90 96.42 L 1501.61 97.13 L 1502.31 97.85 L 1503.01 98.58 L 1503.70 99.31 L 1504.40 100.05 L 1505.09 100.79 L 1505.78 101.54 L 1506.47 102.30 L 1507.15 103.06 L 1507.83 103.82 L 1508.51 104.59 L 1509.18 105.37 L 1509.85 106.15 L 1510.52 106.94 L 1511.19 107.73 L 1511.85 108.53 L 1512.51 109.33 L 1513.16 110.14 L 1513.81 110.95 L 1514.46 111.76 L 1515.11 112.59 L 1515.75 113.41 L 1516.39 114.24 L 1517.02 115.08 L 1517.65 115.92 L 1518.28 116.76 L 1518.90 117.61 L 1519.52 118.46 L 1520.13 119.32 L 1520.75 120.18 L 1521.35 121.05 L 1521.96 121.92 L 1522.56 122.79 L 1523.15 123.67 L 1523.74 124.55 L 1524.33 125.44 L 1524.91 126.33 L 1525.49 127.22 L 1526.06 128.11 L 1526.63 129.01 L 1527.20 129.92 L 1527.76 130.82 L 1528.32 131.73 L 1528.87 132.65 L 1529.41 133.56 L 1529.96 134.48 L 1530.49 135.41 L 1531.03 136.33 L 1531.56 137.26 L 1532.08 138.19 L 1532.60 139.13 L 1533.11 140.06" fill="none" stroke="#c4c8c6" stroke-width="1.1"/>
<path d="M 1538.89 151.49 L 1539.33 152.45 L 1539.78 153.42 L 1540.21 154.39 L 1540.64 155.36 L 1541.07 156.33 L 1541.49 157.30 L 1541.90 158.27 L 1542.31 159.25 L 1542.72 160.23 L 1543.11 161.20 L 1543.50 162.18 L 1543.89 163.16 L 1544.27 164.14 L 1544.65 165.12 L 1545.02 166.10 L 1545.38 167.09 L 1545.74 168.07 L 1546.09 169.05 L 1546.43 170.04 L 1546.77 171.02 L 1547.11 172.01 L 1547.43 172.99 L 1547.76 173.98 L 1548.07 174.96 L 1548.38 175.94 L 1548.69 176.93 L 1548.98 177.91 L 1549.27 178.90 L 1549.56 179.88 L 1549.84 180.86 L 1550.11 181.85 L 1550.38 182.83 L 1550.64 183.81 L 1550.89 184.79 L 1551.14 185.77 L 1551.38 186.75 L 1551.62 187.73 L 1551.85 188.71 L 1552.07 189.68 L 1552.29 190.66 L 1552.50 191.63 L 1552.70 192.61 L 1552.90 193.58 L 1553.09 194.55 L 1553.27 195.51 L 1553.45 196.48 L 1553.62 197.45 L 1553.79 198.41 L 1553.95 199.37 L 1554.10 200.33 L 1554.25 201.29 L 1554.38 202.24 L 1554.52 203.20 L 1554.64 204.15 L 1554.76 205.10 L 1554.88 206.04 L 1554.98 206.99 L 1555.08 207.93 L 1555.18 208.87 L 1555.26 209.80 L 1555.34 210.74 L 1555.42 211.67 L 1555.48 212.60 L 1555.54 213.52 L 1555.60 214.44 L 1555.64 215.36 L 1555.68 216.28 L 1555.72 217.19 L 1555.74 218.10 L 1555.77 219.01 L 1555.78 219.91 L 1555.79 220.81 L 1555.79 221.70 L 1555.78 222.60 L 1555.77 223.48 L 1555.75 224.37 L 1555.72 225.25 L 1555.69 226.13 L 1555.65 227.00 L 1555.61 227.87 L 1555.55 228.74 L 1555.49 229.60 L 1555.43 230.45 L 1555.36 231.31 L 1555.28 232.15 L 1555.19 233.00 L 1555.10 233.84 L 1555.00 234.67 L 1554.90 235.50 L 1554.79 236.33 L 1554.67 237.15 L 1554.54 237.96 L 1554.41 238.78 L 1554.27 239.58 L 1554.13 240.38 L 1553.98 241.18 L 1553.82 241.97 L 1553.66 242.76 L 1553.49 243.54 L 1553.31 244.31 L 1553.13 245.08 L 1552.94 245.85 L 1552.74 246.61 L 1552.54 247.36 L 1552.33 248.11 L 1552.11 248.85 L 1551.89 249.59 L 1551.67 250.32 L 1551.43 251.05 L 1551.19 251.77 L 1550.94 252.48 L 1550.69 253.19 L 1550.43 253.89 L 1550.17 254.59 L 1549.89 255.28 L 1549.62 255.96 L 1549.33 256.64 L 1549.04 257.31 L 1548.75 257.97 L 1548.44 258.63 L 1548.13 259.28 L 1547.82 259.93 L 1547.50 260.57 L 1547.17 261.20 L 1546.84 261.83 L 1546.50 262.45 L 1546.16 263.06 L 1545.81 263.67 L 1545.45 264.26 L 1545.09 264.86 L 1544.72 265.44 L 1544.35 266.02 L 1543.97 266.59" fill="none" stroke="#45444c" stroke-width="1.6"/>
<path d="M 1527.87 281.59 A 122.44 72.99 61.10 1 1 1409.53 67.21 A 122.44 72.99 61.10 1 1 1527.87 281.59 Z" fill="none" stroke="#6c6c6c" stroke-width="1.2"/>
<path d="M 1524.27 275.06 A 114.98 68.54 61.10 1 1 1413.13 73.74 A 114.98 68.54 61.10 1 1 1524.27 275.06 Z" fill="none" stroke="#8f8f8f" stroke-width="1.3"/>
<path d="M 1522.46 271.79 A 111.25 66.32 61.10 1 1 1414.94 77.01 A 111.25 66.32 61.10 1 1 1522.46 271.79 Z" fill="none" stroke="#6a6a6a" stroke-width="1.0"/>
<path d="M 1520.96 269.07 A 108.14 64.47 61.10 1 1 1416.44 79.73 A 108.14 64.47 61.10 1 1 1520.96 269.07 Z" fill="none" stroke="#8a8a8a" stroke-width="1.0"/>
<path d="M 1519.16 264.09 A 101.30 60.39 61.10 1 1 1421.24 86.71 A 101.30 60.39 61.10 1 1 1519.16 264.09 Z" fill="url(#gap)"/>
<path d="M 1515.45 255.97 A 92.60 55.20 61.10 1 1 1425.95 93.83 A 92.60 55.20 61.10 1 1 1515.45 255.97 Z" fill="none" stroke="#7c7c7c" stroke-width="2.2"/>
<path d="M 1416.20 123.45 L 1416.63 122.64 L 1421.63 113.14 L 1422.07 112.34 L 1422.52 111.57 L 1422.99 110.81 L 1423.48 110.07 L 1423.98 109.34 L 1424.49 108.64 L 1425.02 107.95 L 1425.57 107.29 L 1426.12 106.64 L 1426.70 106.01 L 1427.28 105.40 L 1427.88 104.81 L 1428.49 104.24 L 1429.12 103.69 L 1429.76 103.15 L 1430.41 102.64 L 1431.07 102.15 L 1431.75 101.68 L 1432.44 101.23 L 1433.14 100.81 L 1433.85 100.40 L 1434.58 100.01 L 1435.32 99.65 L 1436.06 99.30 L 1436.82 98.98 L 1437.59 98.68 L 1438.37 98.40 L 1439.16 98.14 L 1439.96 97.91 L 1440.77 97.69 L 1441.59 97.50 L 1442.42 97.33 L 1443.25 97.18 L 1444.10 97.05 L 1444.95 96.95 L 1445.82 96.87 L 1446.69 96.81 L 1447.56 96.77 L 1448.45 96.75 L 1449.34 96.76 L 1450.24 96.79 L 1451.15 96.84 L 1452.06 96.91 L 1452.98 97.01 L 1453.91 97.12 L 1454.84 97.26 L 1455.77 97.42 L 1456.71 97.61 L 1457.66 97.81 L 1458.61 98.04 L 1459.56 98.29 L 1460.52 98.56 L 1461.48 98.85 L 1462.44 99.16 L 1463.41 99.50 L 1464.38 99.85 L 1465.35 100.23 L 1466.33 100.63 L 1467.30 101.05 L 1468.28 101.49 L 1469.26 101.95 L 1470.24 102.43 L 1471.22 102.93 L 1472.20 103.45 L 1473.18 104.00 L 1474.16 104.56 L 1475.13 105.14 L 1476.11 105.74 L 1477.09 106.36 L 1478.06 107.00 L 1479.04 107.66 L 1480.01 108.34 L 1480.98 109.04 L 1481.94 109.75 L 1482.90 110.49 L 1483.86 111.24 L 1484.82 112.01 L 1485.77 112.79 L 1486.72 113.60 L 1487.66 114.42 L 1488.60 115.26 L 1489.54 116.11 L 1490.46 116.98 L 1491.39 117.87 L 1492.30 118.77 L 1493.21 119.69 L 1494.12 120.62 L 1495.01 121.57 L 1495.90 122.53 L 1496.79 123.51 L 1497.66 124.50 L 1498.53 125.50 L 1499.39 126.52 L 1500.24 127.55 L 1501.08 128.59 L 1501.92 129.65 L 1502.74 130.72 L 1503.56 131.80 L 1504.36 132.89 L 1505.16 133.99 L 1505.94 135.11 L 1506.72 136.23 L 1507.48 137.36 L 1508.24 138.51 L 1508.98 139.66 L 1509.71 140.82 L 1510.43 142.00 L 1511.14 143.17 L 1511.84 144.36 L 1512.52 145.56 L 1513.19 146.76 L 1513.85 147.97 L 1514.50 149.19 L 1515.13 150.41 L 1515.75 151.64 L 1516.36 152.87 L 1516.96 154.11 L 1517.54 155.35 L 1518.10 156.60 L 1518.65 157.85 L 1519.19 159.10 L 1519.72 160.36 L 1520.22 161.62 L 1520.72 162.89 L 1521.20 164.15 L 1521.66 165.42 L 1522.11 166.69 L 1522.55 167.96 L 1522.97 169.23 L 1523.37 170.50 L 1523.76 171.77 L 1524.13 173.03 L 1524.48 174.30 L 1524.82 175.57 L 1525.15 176.83 L 1525.46 178.09 L 1525.75 179.35 L 1526.02 180.61 L 1526.28 181.86 L 1526.52 183.11 L 1526.75 184.36 L 1526.96 185.60 L 1527.15 186.83 L 1527.32 188.06 L 1527.48 189.29 L 1527.62 190.51 L 1527.75 191.72 L 1527.86 192.92 L 1527.95 194.12 L 1528.02 195.31 L 1528.08 196.50 L 1528.12 197.67 L 1528.14 198.84 L 1528.14 200.00 L 1528.13 201.14 L 1528.10 202.28 L 1528.06 203.41 L 1527.99 204.53 L 1527.91 205.64 L 1527.81 206.73 L 1527.70 207.82 L 1527.57 208.89 L 1527.42 209.95 L 1527.26 211.00 L 1527.07 212.04 L 1526.87 213.06 L 1526.66 214.07 L 1526.43 215.07 L 1526.18 216.05 L 1525.91 217.02 L 1525.63 217.97 L 1525.33 218.91 L 1525.02 219.84 L 1524.69 220.75 L 1524.34 221.64 L 1523.98 222.52 L 1523.60 223.38 L 1523.21 224.22 L 1522.80 225.05 L 1522.37 225.86 L 1517.37 235.36 L 1516.93 236.16 L 1516.48 236.93 L 1516.01 237.69 L 1515.52 238.43 L 1515.02 239.16 L 1514.51 239.86 L 1513.98 240.55 L 1513.43 241.21 L 1512.88 241.86 L 1512.30 242.49 L 1511.72 243.10 L 1511.12 243.69 L 1510.51 244.26 L 1509.88 244.81 L 1509.24 245.35 L 1508.59 245.86 L 1507.93 246.35 L 1507.25 246.82 L 1506.56 247.27 L 1505.86 247.69 L 1505.15 248.10 L 1504.42 248.49 L 1503.68 248.85 L 1502.94 249.20 L 1502.18 249.52 L 1501.41 249.82 L 1500.63 250.10 L 1499.84 250.36 L 1499.04 250.59 L 1498.23 250.81 L 1497.41 251.00 L 1496.58 251.17 L 1495.75 251.32 L 1494.90 251.45 L 1494.05 251.55 L 1493.18 251.63 L 1492.31 251.69 L 1491.44 251.73 L 1490.55 251.75 L 1489.66 251.74 L 1488.76 251.71 L 1487.85 251.66 L 1486.94 251.59 L 1486.02 251.49 L 1485.09 251.38 L 1484.16 251.24 L 1483.23 251.08 L 1482.29 250.89 L 1481.34 250.69 L 1480.39 250.46 L 1479.44 250.21 L 1478.48 249.94 L 1477.52 249.65 L 1476.56 249.34 L 1475.59 249.00 L 1474.62 248.65 L 1473.65 248.27 L 1472.67 247.87 L 1471.70 247.45 L 1470.72 247.01 L 1469.74 246.55 L 1468.76 246.07 L 1467.78 245.57 L 1466.80 245.05 L 1465.82 244.50 L 1464.84 243.94 L 1463.87 243.36 L 1462.89 242.76 L 1461.91 242.14 L 1460.94 241.50 L 1459.96 240.84 L 1458.99 240.16 L 1458.02 239.46 L 1457.06 238.75 L 1456.10 238.01 L 1455.14 237.26 L 1454.18 236.49 L 1453.23 235.71 L 1452.28 234.90 L 1451.34 234.08 L 1450.40 233.24 L 1449.46 232.39 L 1448.54 231.52 L 1447.61 230.63 L 1446.70 229.73 L 1445.79 228.81 L 1444.88 227.88 L 1443.99 226.93 L 1443.10 225.97 L 1442.21 224.99 L 1441.34 224.00 L 1440.47 223.00 L 1439.61 221.98 L 1438.76 220.95 L 1437.92 219.91 L 1437.08 218.85 L 1436.26 217.78 L 1435.44 216.70 L 1434.64 215.61 L 1433.84 214.51 L 1433.06 213.39 L 1432.28 212.27 L 1431.52 211.14 L 1430.76 209.99 L 1430.02 208.84 L 1429.29 207.68 L 1428.57 206.50 L 1427.86 205.33 L 1427.16 204.14 L 1426.48 202.94 L 1425.81 201.74 L 1425.15 200.53 L 1424.50 199.31 L 1423.87 198.09 L 1423.25 196.86 L 1422.64 195.63 L 1422.04 194.39 L 1421.46 193.15 L 1420.90 191.90 L 1420.35 190.65 L 1419.81 189.40 L 1419.28 188.14 L 1418.78 186.88 L 1418.28 185.61 L 1417.80 184.35 L 1417.34 183.08 L 1416.89 181.81 L 1416.45 180.54 L 1416.03 179.27 L 1415.63 178.00 L 1415.24 176.73 L 1414.87 175.47 L 1414.52 174.20 L 1414.18 172.93 L 1413.85 171.67 L 1413.54 170.41 L 1413.25 169.15 L 1412.98 167.89 L 1412.72 166.64 L 1412.48 165.39 L 1412.25 164.14 L 1412.04 162.90 L 1411.85 161.67 L 1411.68 160.44 L 1411.52 159.21 L 1411.38 157.99 L 1411.25 156.78 L 1411.14 155.58 L 1411.05 154.38 L 1410.98 153.19 L 1410.92 152.00 L 1410.88 150.83 L 1410.86 149.66 L 1410.86 148.50 L 1410.87 147.36 L 1410.90 146.22 L 1410.94 145.09 L 1411.01 143.97 L 1411.09 142.86 L 1411.19 141.77 L 1411.30 140.68 L 1411.43 139.61 L 1411.58 138.55 L 1411.74 137.50 L 1411.93 136.46 L 1412.13 135.44 L 1412.34 134.43 L 1412.57 133.43 L 1412.82 132.45 L 1413.09 131.48 L 1413.37 130.53 L 1413.67 129.59 L 1413.98 128.66 L 1414.31 127.75 L 1414.66 126.86 L 1415.02 125.98 L 1415.40 125.12 L 1415.79 124.28 Z" fill="url(#icyl)"/>
<ellipse cx="1433.5" cy="103" rx="4.5" ry="3.2" fill="#e4e6e5" transform="rotate(-40 1433.5 103)"/>
<path d="M 1505.15 248.10 A 78.93 47.05 61.10 1 1 1428.85 109.90 A 78.93 47.05 61.10 1 1 1505.15 248.10 Z" fill="#777777"/>
<path d="M 1504.55 247.01 A 77.69 46.31 61.10 1 1 1429.45 110.99 A 77.69 46.31 61.10 1 1 1504.55 247.01 Z" fill="none" stroke="#858585" stroke-width="1.0"/>
<ellipse cx="1501.5" cy="245.5" rx="4.2" ry="2.4" fill="#cfd3d2" transform="rotate(-25 1501.5 245.5)"/>
<path d="M 1488.84 214.26 A 43.13 25.71 61.10 1 1 1447.16 138.74 A 43.13 25.71 61.10 1 1 1488.84 214.26 Z" fill="url(#bore)"/>
</svg></body></html>
